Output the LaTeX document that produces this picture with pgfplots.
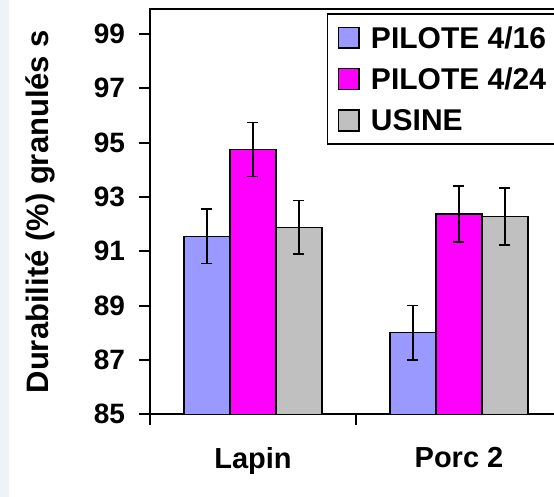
\documentclass[border=0pt]{standalone}
\usepackage{fontspec}
\setmainfont{Liberation Sans}
\usepackage{pgfplots}
\pgfplotsset{compat=1.18}
\definecolor{cblue}{RGB}{153,153,255}
\definecolor{cmag}{RGB}{255,0,255}
\definecolor{cgray}{RGB}{192,192,192}
\definecolor{stripc}{RGB}{236,244,247}
\begin{document}
\begin{tikzpicture}
\useasboundingbox (-75pt,-41.35pt) rectangle (202pt,207.15pt);
\clip (-75pt,-41.35pt) rectangle (202pt,207.15pt);
\fill[stripc] (-75pt,-41.35pt) rectangle (-70.5pt,207.15pt);
\begin{axis}[
  at={(0pt,0pt)}, anchor=south west,
  scale only axis, width=206pt, height=202.65pt,
  xmin=-0.5, xmax=1.5, ymin=85, ymax=99.92,
  ybar=0pt, bar width=23pt,
  xtick={-0.5,0.5,1.5}, xticklabels={},
  extra x ticks={0,1}, extra x tick labels={Lapin,Porc 2},
  extra x tick style={major tick length=0pt,
    xticklabel style={font=\bfseries\fontsize{14.5}{17}\selectfont, yshift=-13pt}},
  ytick={85,87,...,99},
  tick align=outside, tick pos=left,
  major tick length=5.5pt,
  axis line style={line width=0.9pt},
  tick style={line width=0.9pt, black},
  /pgf/number format/assume math mode=true,
  yticklabel style={font=\bfseries\fontsize{14}{16}\selectfont, xshift=-3.5pt},
  ylabel={Durabilité (\%) granulés s},
  ylabel style={font=\bfseries\fontsize{15.5}{18}\selectfont, at={(axis description cs:-0.267,0.5)}, anchor=center},
  legend style={at={(axis description cs:0.4289,0.9894)}, anchor=north west,
    draw=black, line width=0.9pt, font=\bfseries\fontsize{15}{17}\selectfont,
    inner xsep=5pt, inner ysep=6.2pt, row sep=9.45pt,
    nodes={inner sep=0pt, text height=10.4pt, text depth=0pt},
    /tikz/every odd column/.style={column sep=5.5pt}},
  legend cell align=left,
  legend image code/.code={\draw[#1, line width=0.8pt] (0pt,-5.2pt) rectangle (10.4pt,5.2pt);},
  error bars/error bar style={line width=0.7pt, black},
  error bars/error mark options={rotate=90, line width=0.7pt, black, mark size=2.75pt},
]
\addplot[fill=cblue, draw=black, line width=0.7pt, error bars/.cd, y dir=both, y explicit]
  coordinates {(0,91.55) +- (0,1.0) (1,88.0) +- (0,1.0)};
\addplot[fill=cmag, draw=black, line width=0.7pt, error bars/.cd, y dir=both, y explicit]
  coordinates {(0,94.75) +- (0,1.0) (1,92.37) +- (0,1.03)};
\addplot[fill=cgray, draw=black, line width=0.7pt, error bars/.cd, y dir=both, y explicit]
  coordinates {(0,91.88) +- (0,0.98) (1,92.28) +- (0,1.05)};
\legend{PILOTE 4/16, PILOTE 4/24, USINE}
\end{axis}
\end{tikzpicture}
\end{document}
